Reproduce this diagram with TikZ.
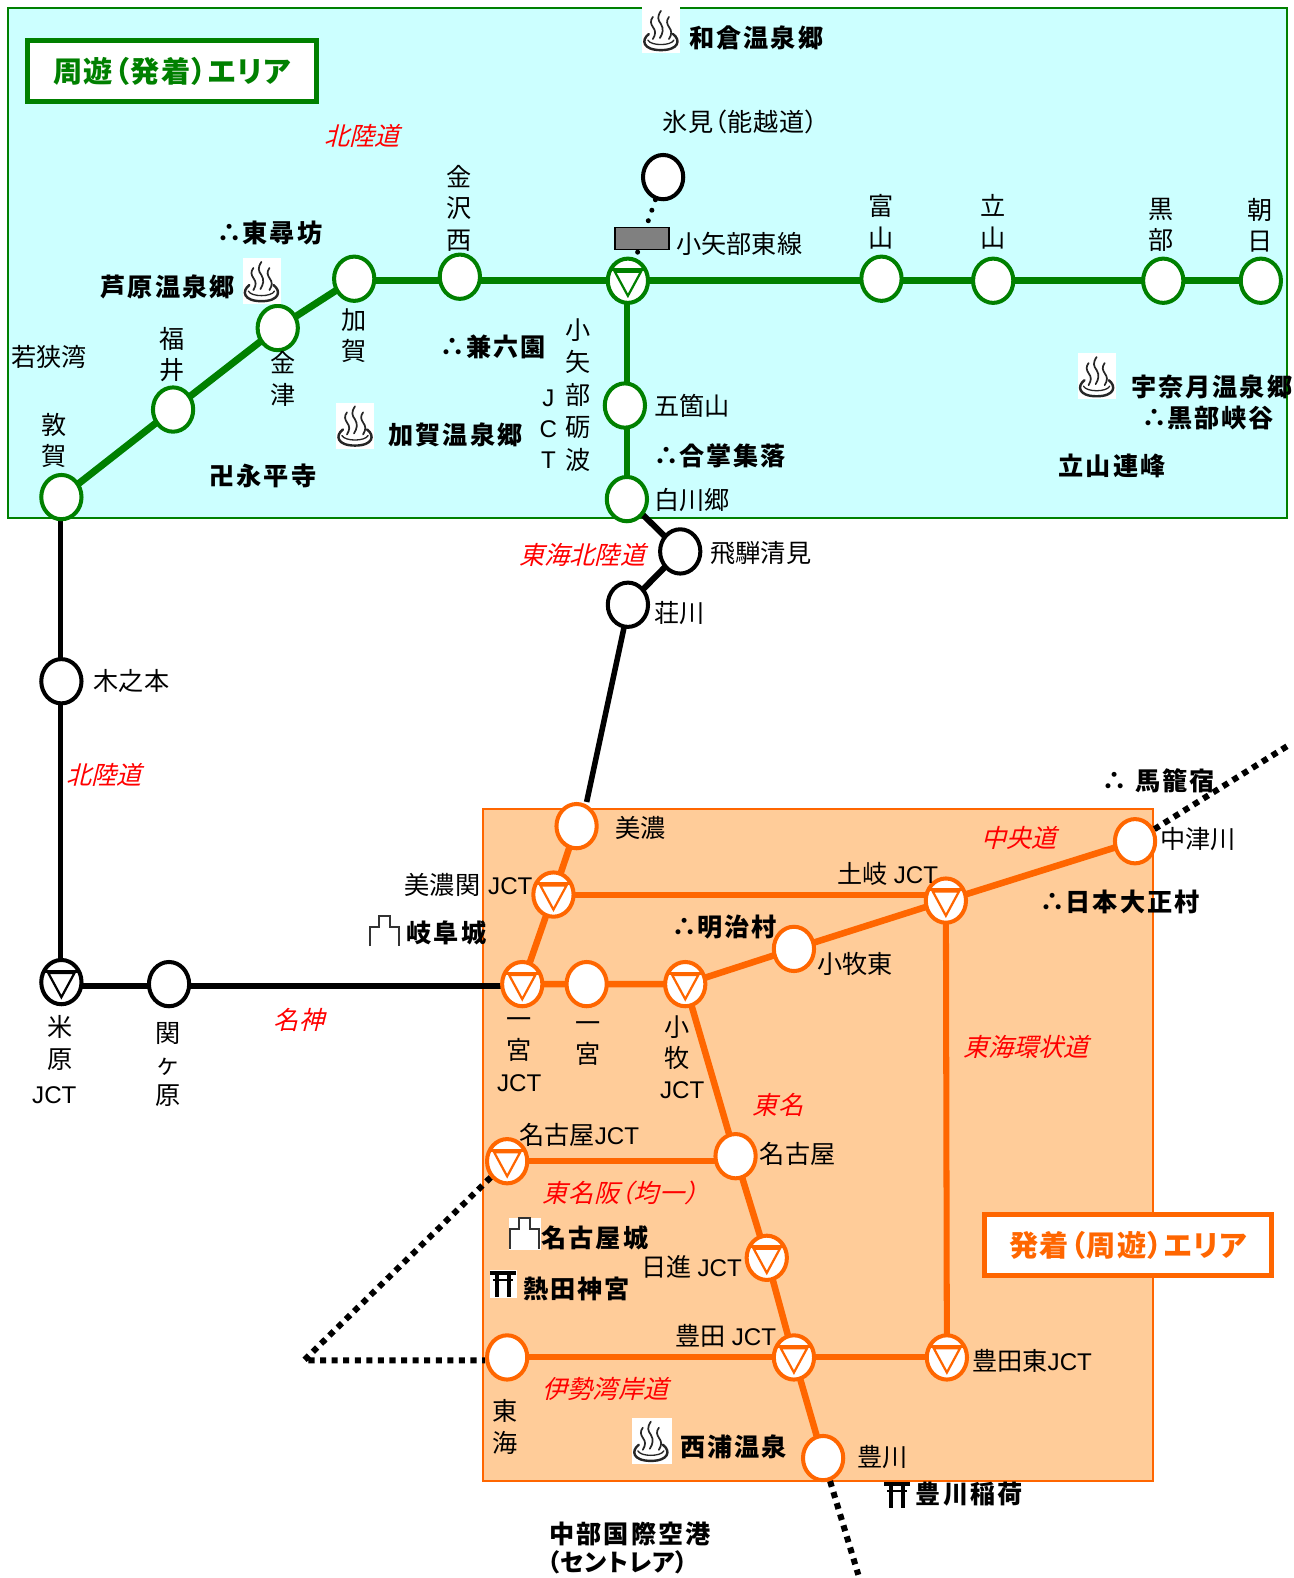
\documentclass[tikz,border=0pt]{standalone}
\usepackage{fontspec}
\usetikzlibrary{shapes.geometric}
\setmainfont{Noto Sans CJK JP}
\newfontfamily\jpr{Noto Sans CJK JP}
\newfontfamily\jpp[LetterSpace=3,RawFeature={+palt}]{Noto Sans CJK JP}
\newfontfamily\jpb[LetterSpace=8]{Noto Sans CJK JP}
\newfontfamily\jpbp[LetterSpace=4,RawFeature={+palt}]{Noto Sans CJK JP}
\newfontfamily\jplg[LetterSpace=5,RawFeature={+palt}]{Noto Sans CJK JP}
\newfontfamily\jpi[FakeSlant=0.25]{Noto Sans CJK JP}
\newfontfamily\jpip[FakeSlant=0.25,LetterSpace=3,RawFeature={+palt}]{Noto Sans CJK JP}
\newfontfamily\lat{Liberation Sans}
\newcommand\JC{{\lat\fontsize{24}{31}\selectfont JCT}}
\newcommand\tri{{\jpr\fontsize{26}{30}\selectfont ∴}}
\definecolor{gr}{HTML}{008000}
\definecolor{og}{HTML}{FF6600}
\definecolor{aq}{HTML}{CCFFFF}
\definecolor{pe}{HTML}{FFCC99}
\pgfdeclarelayer{bg}
\pgfsetlayers{bg,main}
\tikzset{
 x=1pt,y=-1pt,
 stn/.style={ellipse,draw=#1,fill=white,line width=4pt,inner sep=0pt,minimum width=40pt,minimum height=44pt},
 lab/.style={inner sep=0pt,anchor=west,font=\fontsize{25}{31}\selectfont\jpr},
 stk/.style={inner sep=0pt,anchor=center,align=center,font=\fontsize{25}{31}\selectfont\jpr},
 bld/.style={inner sep=0pt,anchor=west,font=\fontsize{25}{30}\selectfont\jpb\bfseries},
 rdl/.style={inner sep=0pt,anchor=west,text=red,font=\fontsize{25}{30}\selectfont\jpi},
 dott/.style={black,line width=6pt,dash pattern=on 6pt off 5.5pt},
 legend/.style={draw=#1,fill=white,line width=5pt,text=#1,inner sep=0pt,font=\fontsize{29}{34}\selectfont\jplg\bfseries},
 ons/.style={fill=white,inner sep=0pt,minimum width=38pt,minimum height=46pt},
 icon/.style={inner sep=0pt,minimum width=#1,minimum height=#1},
}
\newcommand\jct[2]{%
 \draw[shift={(#1.center)},#2,line width=3pt] (-17,-11) -- (17,-11);
 \draw[shift={(#1.center)},#2,line width=2.2pt,line join=miter] (-13,-9) -- (13,-9) -- (0,15) -- cycle;}
\newcommand\castle[1]{\draw[shift={(#1.north west)},black!80,line width=2pt] (1,31) -- (1,12) -- (10,12) -- (10,1) -- (21,1) -- (21,12) -- (30,12) -- (30,31);}
\newcommand\torii[1]{%
 \draw[shift={(#1.north west)},black,line width=3.5pt] (0,3) -- (26,3) (7,3) -- (7,27) (19,3) -- (19,27);
 \draw[shift={(#1.north west)},black,line width=2pt] (3,10) -- (23,10);}
\newcommand\onsen[1]{%
 \begin{scope}[shift={(#1.north west)},black!85]
 \draw[line width=1.7pt,line cap=round] (19,4) .. controls (15,10) and (16,13) .. (19,17) .. controls (22,22) and (21,26) .. (18,31);
 \draw[line width=1.7pt,line cap=round] (11,10) .. controls (8,14) and (9,17) .. (11,20) .. controls (14,24) and (14,27) .. (11,32);
 \draw[line width=1.7pt,line cap=round] (27,10) .. controls (24,14) and (25,17) .. (27,20) .. controls (30,24) and (30,27) .. (27,32);
 \draw[line width=2.4pt,line cap=round] (7,27) .. controls (-1,33) and (1,43) .. (19,43) .. controls (37,43) and (39,33) .. (31,27);
 \draw[line width=1.3pt,line cap=round] (6,33) .. controls (9,39) and (29,39) .. (32,33);
 \end{scope}}
\begin{document}
\begin{tikzpicture}
\useasboundingbox (0,0) rectangle (1285,1568.2);
% stations
\foreach \n/\px/\py in {tsuruga/61/494,fukui/172/407,kanazu/276/326,kaga/352/277,knishi/457/275,oyabe/624/279,toyama/876/277,tateyama/987/279,kurobe/1156/279,asahi/1253/279,gokayama/621/403,shirakawa/623/496}
 \node[stn=gr] (\n) at (\px,\py) {};
\foreach \n/\px/\py in {himi/659/176,hida/676/548,shokawa/624/601,kinomoto/61/677,maibara/61/976,seki/168/978}
 \node[stn=black] (\n) at (\px,\py) {};
\foreach \n/\px/\py in {mino/573/821,minoseki/550/889,ichijct/519/978,ichi/583/978,komaki/681/978,komakihi/789/943,toki/940/895,nakatsu/1128/836,nagojct/504/1154,nagoya/731/1149,nisshin/762/1250,toyotajct/789/1349,toyotahi/941/1349,tokai/504/1349,toyokawa/818/1449}
 \node[stn=og] (\n) at (\px,\py) {};
\coordinate (magome) at (1280,741);
\coordinate (kuko) at (853,1565);
\coordinate (fork) at (302,1352);
\node[draw=black,fill=black!50,line width=1.5pt,minimum width=54pt,minimum height=22pt,inner sep=0pt] (noetsu) at (638,237) {};
\begin{pgfonlayer}{bg}
\fill[aq] (8,8) rectangle (1279,515);
\draw[gr,line width=1.5pt] (8,8) rectangle (1279,515);
\fill[pe] (480,804) rectangle (1146,1472);
\draw[og,line width=1.5pt] (480,804) rectangle (1146,1472);
% green
\draw[gr,line width=7pt] (tsuruga.center) -- (fukui.center) -- (kanazu.center) -- (kaga.center);
\draw[gr,line width=6.5pt] (kaga.center |- oyabe.center) -- (knishi.center |- oyabe.center) -- (oyabe.center) -- (toyama.center |- oyabe.center) -- (tateyama.center) -- (kurobe.center) -- (asahi.center);
\draw[gr,line width=6pt] ([xshift=-1pt]oyabe.center) -- ([xshift=-1pt]oyabe.center |- gokayama.center) -- ([xshift=-1pt]oyabe.center |- shirakawa.center);
% black
\draw[black,line width=5.5pt] ([xshift=-1pt]tsuruga.center) -- ([xshift=-1pt]kinomoto.center) -- ([xshift=-1pt]maibara.center);
\draw[black,line width=5.5pt] ([yshift=-4pt]maibara.center) -- ([yshift=-2pt]seki.center) -- ([yshift=-2pt]ichijct.center);
\draw[black,line width=6pt] (shirakawa.center) -- (hida.center) -- (shokawa.center);
\draw[black,line width=5.5pt] ([xshift=1pt]shokawa.center) -- ([xshift=10pt]mino.north);
% orange
\draw[og,line width=6.5pt] (mino.center) -- (minoseki.center) -- (ichijct.center) -- (ichi.center) -- (komaki.center) -- (komakihi.center) -- (toki.center) -- (nakatsu.center);
\draw[og,line width=6pt] (minoseki.center) -- (minoseki.center -| toki.center);
\draw[og,line width=6pt] (toki.center) -- (toyotahi.center);
\draw[og,line width=6.5pt] (komaki.center) -- (nagoya.center) -- (nisshin.center) -- (toyotajct.center) -- (toyokawa.center);
\draw[og,line width=6pt] (nagojct.center) -- (nagojct.center -| nagoya.center);
\draw[og,line width=6pt] (tokai.center) -- (toyotajct.center) -- (toyotahi.center);
% dotted
\draw[dott] (nagojct) -- (fork) -- (tokai.west |- fork);
\draw[dott] (nakatsu) -- (magome);
\draw[dott] (toyokawa) -- (kuko);
\draw[black,line width=5pt,line cap=round,dash pattern=on 0pt off 11pt] (himi) -- (oyabe);
\end{pgfonlayer}
% junction marks
\jct{oyabe}{gr}
\jct{maibara}{black}
\jct{minoseki}{og}\jct{ichijct}{og}\jct{komaki}{og}\jct{toki}{og}\jct{nagojct}{og}\jct{nisshin}{og}\jct{toyotajct}{og}\jct{toyotahi}{og}
% legends
\node[legend=gr,minimum width=287pt,minimum height=61pt] (lg) at (171,70.5) {周遊（発着）エリア};
\node[legend=og,minimum width=286pt,minimum height=61pt] (lo) at (1121,1237.5) {発着（周遊）エリア};
% onsen icons
\node[ons] (o1) at (657,30) {};\onsen{o1}
\node[ons] (o2) at (260,279.5) {};\onsen{o2}
\node[ons] (o3) at (353,423) {};\onsen{o3}
\node[ons] (o4) at (1090,374) {};\onsen{o4}
\node[ons,minimum width=40pt] (o5) at (648,1432) {};\onsen{o5}
% castles / shrines
\node[icon=31pt] (c1) at (382.5,925) {};\castle{c1}
\node[icon=32pt,fill=white] (c2) at (522,1226) {};\castle{c2}
\node[icon=27pt,fill=white] (t1) at (500.5,1276) {};\torii{t1}
\node[icon=27pt] (t2) at (892,1485.5) {};\torii{t2}
% regular labels
\node[lab,font=\fontsize{25}{31}\selectfont\jpp] (l1) at (658,121) {氷見（能越道）};
\node[lab] (l2) at (672,242) {小矢部東線};
\node[lab] (l3) at (11,355) {若狭湾};
\node[lab] (l4) at (650,403) {五箇山};
\node[lab] (l5) at (650,497) {白川郷};
\node[lab] (l6) at (706,550) {飛騨清見};
\node[lab] (l7) at (650,609) {荘川};
\node[lab] (l8) at (93,677) {木之本};
\node[lab] (l9) at (611,823) {美濃};
\node[lab] (l10) at (402,879) {美濃関\kern8pt\JC};
\node[lab] (l11) at (812,958) {小牧東};
\node[lab] (l12) at (832,868) {土岐\kern6pt\JC};
\node[lab] (l13) at (1153,834) {中津川};
\node[lab] (l14) at (516,1128) {名古屋\JC};
\node[lab] (l15) at (755,1147) {名古屋};
\node[lab] (l16) at (637,1259) {日進\kern6pt\JC};
\node[lab] (l17) at (671,1327) {豊田\kern6pt\JC};
\node[lab] (l18) at (966,1352) {豊田東\JC};
\node[lab] (l19) at (852,1448) {豊川};
% stacked labels
\node[stk] (s1) at (456,207) {金\\沢\\西};
\node[stk] (s2) at (876,220.5) {富\\山};
\node[stk] (s3) at (987,220.5) {立\\山};
\node[stk] (s4) at (1154,223.5) {黒\\部};
\node[stk] (s5) at (1252,223.5) {朝\\日};
\node[stk] (s6) at (352,333.5) {加\\賀};
\node[stk] (s7) at (281,376.5) {金\\津};
\node[stk] (s8) at (171,352.5) {福\\井};
\node[stk] (s9) at (54,437.5) {敦\\賀};
\node[stk,font=\fontsize{25}{32.2}\selectfont\jpr] (s10) at (574,392.5) {小\\矢\\部\\砺\\波};
\node[stk,font=\fontsize{24}{31}\selectfont\lat] (s11) at (545,426.5) {J\\C\\T};
\node[stk] (s12) at (60,1036.5) {米\\原};
\node[stk] (s13) at (54,1088) {\JC};
\node[stk] (s14) at (167,1058) {関\\ヶ\\原};
\node[stk] (s15) at (516,1048) {一\\宮\\\JC};
\node[stk] (s16) at (584,1037) {一\\宮};
\node[stk] (s17) at (673,1036) {小\\牧};
\node[stk] (s18) at (678,1083) {\JC};
\node[stk] (s19) at (502,1418) {東\\海};
% bold labels
\node[bld] (b1) at (685,38) {和倉温泉郷};
\node[bld] (b2) at (215,232) {\tri 東尋坊};
\node[bld] (b3) at (100,285) {芦原温泉郷};
\node[bld] (b4) at (437,345) {\tri 兼六園};
\node[bld] (b5) at (386,432) {加賀温泉郷};
\node[bld] (b6) at (208,473) {卍永平寺};
\node[bld] (b7) at (649,453) {\tri 合掌集落};
\node[bld] (b8) at (1124,384) {宇奈月温泉郷};
\node[bld] (b9) at (1134,415) {\tri 黒部峡谷};
\node[bld] (b10) at (1052,463) {立山連峰};
\node[bld] (b11) at (1094,776) {\tri\,\,馬籠宿};
\node[bld] (b12) at (404,927) {岐阜城};
\node[bld] (b13) at (667,921) {\tri 明治村};
\node[bld] (b14) at (1033,896) {\tri 日本大正村};
\node[bld] (b15) at (538,1230) {名古屋城};
\node[bld] (b16) at (520,1281) {熱田神宮};
\node[bld] (b17) at (676,1438) {西浦温泉};
\node[bld] (b18) at (910,1485) {豊川稲荷};
\node[bld] (b19) at (546,1524) {中部国際空港};
\node[bld,font=\fontsize{24}{30}\selectfont\jpbp\bfseries] (b20) at (544,1553) {（セントレア）};
% road names
\node[rdl] (r1) at (322,135) {北陸道};
\node[rdl] (r2) at (66,770) {北陸道};
\node[rdl] (r3) at (516,551) {東海北陸道};
\node[rdl] (r4) at (975,833) {中央道};
\node[rdl] (r5) at (272,1014) {名神};
\node[rdl] (r6) at (957,1040) {東海環状道};
\node[rdl] (r7) at (748,1098) {東名};
\node[rdl,font=\fontsize{25}{30}\selectfont\jpip] (r8) at (539,1186) {東名阪（均一）};
\node[rdl] (r9) at (539,1380) {伊勢湾岸道};
\end{tikzpicture}
\end{document}
